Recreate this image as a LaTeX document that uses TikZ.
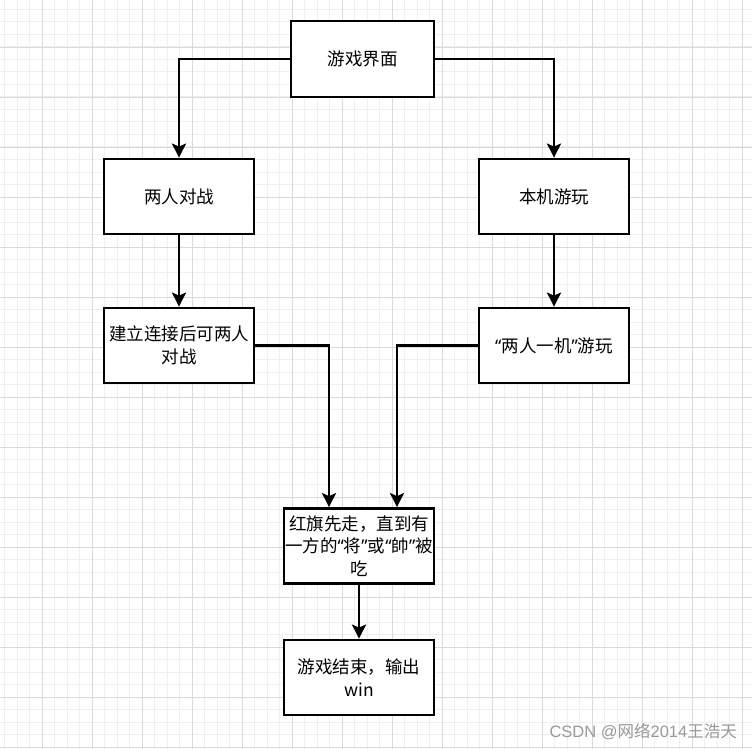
\documentclass[tikz,border=0pt]{standalone}
\usepackage{fontspec}
\setmainfont{Noto Sans CJK SC}
\newfontfamily\qfont{Noto Sans}
\newfontfamily\markfont{Liberation Sans}
\usetikzlibrary{arrows.meta}
\definecolor{minorgrid}{HTML}{EFEFEF}
\definecolor{majorgrid}{HTML}{DADADA}
\newcommand{\oq}{{\qfont “}}
\newcommand{\cq}{{\qfont ”}}
\begin{document}
\begin{tikzpicture}[x=1pt, y=-1pt,
    box/.style={draw, line width=2.8pt, fill=white, minimum width=150pt, minimum height=75pt,
        align=center, font=\fontsize{17.5}{22.5}\selectfont, inner xsep=0pt, inner ysep=2pt},
    link/.style={line width=2.8pt, -{Stealth[length=14pt, width=14pt, inset=3pt]}}
]

% Canvas and grid
\useasboundingbox (0,0) rectangle (752,749);
\fill[white] (0,0) rectangle (752,749);
\foreach \x in {0,...,60}
    \draw[minorgrid, line width=1pt] (4.8+12.5*\x,0) -- (4.8+12.5*\x,749);
\foreach \y in {0,...,59}
    \draw[minorgrid, line width=1pt] (0,9.5+12.5*\y) -- (752,9.5+12.5*\y);
\foreach \x in {0,...,14}
    \draw[majorgrid, line width=1pt] (42.3+50*\x,0) -- (42.3+50*\x,749);
\foreach \y in {0,...,14}
    \draw[majorgrid, line width=1pt] (0,47.3+50*\y) -- (752,47.3+50*\y);

% Boxes
\node[box, minimum width=143pt, minimum height=76pt] (ui) at (362.5,59) {游戏界面};
\node[box] (duel)    at (179,196.5) {两人对战};
\node[box] (local)   at (554,196.5) {本机游玩};
\node[box] (connect) at (179,345.5) {建立连接后可两人\\对战};
\node[box] (hotseat) at (554,345.5) {\oq 两人一机\cq 游玩};
\node[box] (play)    at (359,546)   {红旗先走，直到有\\一方的\oq 将\cq 或\oq 帥\cq 被\\吃};
\node[box] (over)    at (359,677.5) {游戏结束，输出\\win};

% Connectors
\draw[link] (ui.west) -| (duel.north);
\draw[link] (ui.east) -| (local.north);
\draw[link] (duel) -- (connect);
\draw[link] (local) -- (hotseat);
\draw[link] (connect.east) -| ([xshift=-30pt]play.north);
\draw[link] (hotseat.west) -| ([xshift=38pt]play.north);
\draw[link] (play) -- (over);

% Watermark
\node[anchor=east, text=black!40, font=\fontsize{16.5}{18}\selectfont, inner sep=0pt] (mark)
    at (737,732) {{\markfont CSDN @}网络{\markfont 2014}王浩天};

\end{tikzpicture}
\end{document}
